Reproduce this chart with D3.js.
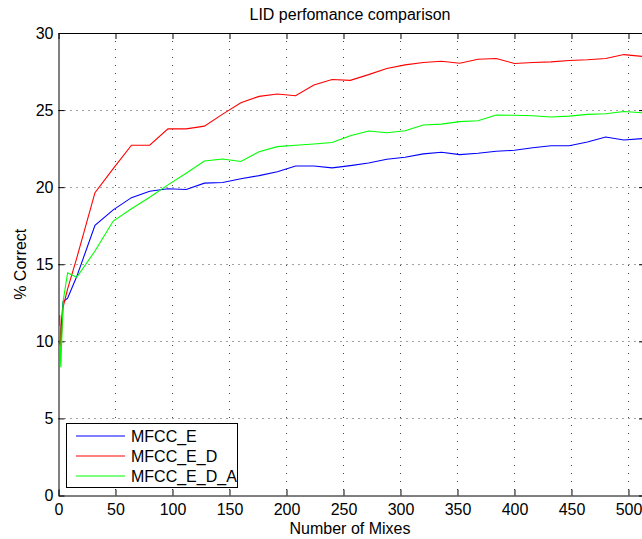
<!DOCTYPE html>
<html>
<head>
<meta charset="utf-8">
<script src="https://cdn.jsdelivr.net/npm/d3@7"></script>
<style>
  body { margin: 0; background: #fff; }
  svg { display: block; font-family: "Liberation Sans", Arial, sans-serif; }
</style>
</head>
<body>
<svg width="642" height="539"></svg>
<script>
var mixes = [1, 2, 4, 8, 16, 32, 48, 64, 80, 96, 112, 128, 144, 160, 176, 192, 208, 224, 240,
    256, 272, 288, 304, 320, 336, 352, 368, 384, 400, 416, 432, 448, 464, 480, 496, 512];

var mfccE = [9.8, 10.6, 12.56, 12.8, 14.2, 17.52, 18.53, 19.32, 19.73, 19.9, 19.85, 20.26, 20.3,
    20.55, 20.75, 21.0, 21.37, 21.37, 21.25, 21.4, 21.57, 21.81, 21.94, 22.16, 22.26, 22.11, 22.2,
    22.33, 22.39, 22.56, 22.69, 22.69, 22.93, 23.25, 23.06, 23.15];

var mfccED = [11.7, 9.6, 12.2, 13.4, 15.4, 19.64, 21.2, 22.72, 22.72, 23.78, 23.78, 23.96, 24.74,
    25.48, 25.89, 26.04, 25.93, 26.63, 26.98, 26.93, 27.3, 27.7, 27.93, 28.09, 28.17, 28.04, 28.3,
    28.35, 28.02, 28.09, 28.13, 28.22, 28.26, 28.35, 28.6, 28.48];

var mfccEDA = [11.0, 8.32, 12.57, 14.45, 14.15, 15.86, 17.8, 18.6, 19.35, 20.15, 20.9, 21.7, 21.83,
    21.67, 22.3, 22.63, 22.72, 22.8, 22.9, 23.34, 23.64, 23.53, 23.66, 24.03, 24.09, 24.25, 24.31,
    24.68, 24.66, 24.63, 24.55, 24.61, 24.72, 24.76, 24.91, 24.83];

var seriesNames = ["MFCC_E", "MFCC_E_D", "MFCC_E_D_A"];
var seriesColors = ["#0000ff", "#ff0000", "#00ff00"];
var xTicks = [0, 50, 100, 150, 200, 250, 300, 350, 400, 450, 500];
var yTicks = [0, 5, 10, 15, 20, 25, 30];

var series = [mfccE, mfccED, mfccEDA];

var svg = d3.select("svg");
var pLeft = 58.5, pRight = 645, pTop = 33, pBottom = 495.5;

var x = d3.scaleLinear().domain([0, 514.5]).range([pLeft, pRight]);
var y = d3.scaleLinear().domain([0, 30]).range([pBottom, pTop]);

// grid
svg.append("g")
    .selectAll("line")
    .data(xTicks.slice(1))
    .enter().append("line")
    .attr("x1", function(d) { return Math.round(x(d)) + 0.5; })
    .attr("x2", function(d) { return Math.round(x(d)) + 0.5; })
    .attr("y1", pTop)
    .attr("y2", pBottom)
    .attr("stroke", "#444")
    .attr("stroke-dasharray", "1,7");

svg.append("g")
    .selectAll("line")
    .data(yTicks.slice(1, -1))
    .enter().append("line")
    .attr("x1", pLeft)
    .attr("x2", pRight)
    .attr("y1", function(d) { return Math.round(y(d)) + 0.5; })
    .attr("y2", function(d) { return Math.round(y(d)) + 0.5; })
    .attr("stroke", "#444")
    .attr("stroke-dasharray", "1,5");

// axes with inward ticks
var axisB = svg.append("g")
    .attr("transform", "translate(0," + pBottom + ")")
    .call(d3.axisBottom(x).tickValues(xTicks).tickSizeInner(-6).tickSizeOuter(0).tickPadding(8.5));
var axisT = svg.append("g")
    .attr("transform", "translate(0," + pTop + ")")
    .call(d3.axisTop(x).tickValues(xTicks).tickSizeInner(-6).tickSizeOuter(0).tickFormat(""));
var axisL = svg.append("g")
    .attr("transform", "translate(" + pLeft + ",0)")
    .call(d3.axisLeft(y).tickValues(yTicks).tickSizeInner(-6).tickSizeOuter(0).tickPadding(5));
var axisR = svg.append("g")
    .attr("transform", "translate(" + pRight + ",0)")
    .call(d3.axisRight(y).tickValues(yTicks).tickSizeInner(-6).tickSizeOuter(0).tickFormat(""));

[axisB, axisT, axisL, axisR].forEach(function(a) {
    a.select(".domain").attr("stroke", "#000").attr("stroke-width", 1);
    a.selectAll(".tick line").attr("stroke", "#000");
    a.selectAll("text").attr("fill", "#000").attr("font-size", 16)
        .attr("font-family", "Liberation Sans, Arial, sans-serif");
});

// lines
var line = d3.line()
    .x(function(d, i) { return x(mixes[i]); })
    .y(function(d) { return y(d); });

svg.append("g")
    .selectAll("path")
    .data(series)
    .enter().append("path")
    .attr("d", line)
    .attr("fill", "none")
    .attr("stroke", function(d, i) { return seriesColors[i]; })
    .attr("stroke-width", 1.1);

// title and labels
svg.append("text")
    .attr("x", 350).attr("y", 20)
    .attr("text-anchor", "middle")
    .attr("font-size", 16)
    .text("LID perfomance comparison");

svg.append("text")
    .attr("x", 350).attr("y", 533.5)
    .attr("text-anchor", "middle")
    .attr("font-size", 16)
    .text("Number of Mixes");

svg.append("text")
    .attr("transform", "translate(26," + ((pTop + pBottom) / 2) + ") rotate(-90)")
    .attr("text-anchor", "middle")
    .attr("font-size", 16)
    .text("% Correct");

// legend
var legend = svg.append("g");
legend.append("rect")
    .attr("x", 66.5).attr("y", 423.5)
    .attr("width", 171).attr("height", 64)
    .attr("fill", "#fff")
    .attr("stroke", "#000");

var items = legend.selectAll("g.item")
    .data(seriesNames)
    .enter().append("g")
    .attr("class", "item")
    .attr("transform", function(d, i) { return "translate(0," + (436 + i * 20) + ")"; });

items.append("line")
    .attr("x1", 76).attr("x2", 125)
    .attr("stroke", function(d, i) { return seriesColors[i]; })
    .attr("stroke-width", 1.1);

items.append("text")
    .attr("x", 131).attr("y", 5.7)
    .attr("font-size", 16)
    .text(function(d) { return d; });
</script>
</body>
</html>
